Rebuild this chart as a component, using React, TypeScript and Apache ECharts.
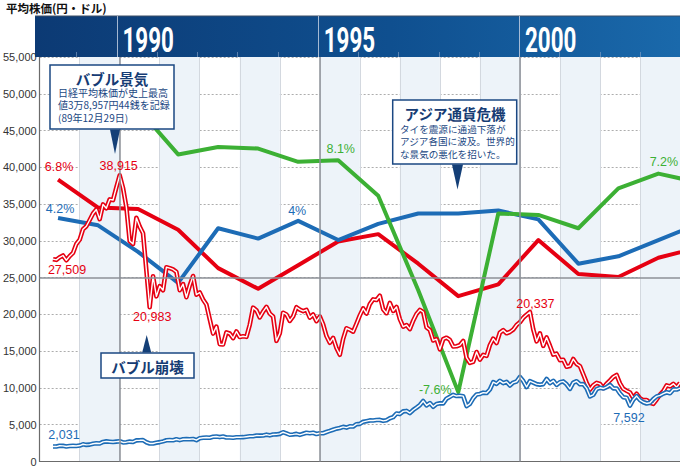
import React, { useEffect, useRef } from "react";
import * as echarts from "echarts";

// ---- data ----
const GROWTH_YEARS = [1988, 1989, 1990, 1991, 1992, 1993, 1994, 1995, 1996, 1997, 1998, 1999, 2000, 2001, 2002, 2003, 2004];
const japanGrowth = [6.8, 4.9, 4.8, 3.4, 0.8, -0.6, 1.0, 2.6, 3.1, 1.1, -1.1, -0.3, 2.7, 0.4, 0.2, 1.5, 2.2];
const usGrowth = [4.2, 3.7, 1.9, -0.2, 3.5, 2.8, 4.0, 2.7, 3.8, 4.5, 4.5, 4.7, 4.1, 1.1, 1.6, 2.7, 3.8];
const ASIA_YEARS = [1990, 1991, 1992, 1993, 1994, 1995, 1996, 1997, 1998, 1999, 2000, 2001, 2002, 2003, 2004];
const asiaGrowth = [11.6, 8.5, 9.0, 8.9, 8.0, 8.1, 5.7, -0.7, -7.6, 4.5, 4.4, 3.5, 6.2, 7.2, 6.6];

// month-end values from April 1988 to December 2003
const MONTHLY_START_YEAR = 1988;
const MONTHLY_START_MONTH = 4;
const nikkeiMonthEnd = [
  27509, 27417, 27769, 28010, 27366, 27924, 28358, 29579, 30159,
  31581, 31986, 32839, 33713, 34267, 32949, 34954, 34431, 35637, 35549, 37269, 38915,
  37189, 34591, 29980, 29584, 33131, 31940, 31036, 25978, 20983, 25194, 22455, 23849,
  23293, 26409, 26292, 26111, 25790, 23291, 24121, 22336, 23916, 25222, 22687, 22984,
  22023, 21339, 19346, 17391, 18348, 15952, 15910, 17555, 17399, 16767, 17684, 16925,
  17024, 16953, 18591, 20919, 20552, 19591, 20380, 21027, 20106, 19704, 16408, 17417,
  20229, 19997, 19112, 19725, 20974, 20644, 20449, 20629, 19564, 19990, 19076, 19723,
  18650, 17053, 16140, 16807, 15437, 14517, 16678, 18117, 17913, 17655, 18744, 19868,
  20813, 20125, 21407, 22041, 21956, 22531, 20693, 20167, 21556, 20467, 21020, 19361,
  18330, 18557, 18003, 19151, 20069, 20605, 20331, 18229, 17888, 16459, 16636, 15259,
  16628, 16832, 16527, 15641, 15671, 15830, 16379, 14108, 13406, 13565, 14884, 13842,
  14499, 14368, 15837, 16702, 16112, 17530, 17862, 17437, 17605, 17942, 18558, 18934,
  19540, 19960, 20337, 17974, 16332, 17411, 15727, 16861, 15747, 14539, 14649, 13785,
  13843, 12883, 12999, 13934, 13262, 12969, 11860, 10713, 9775, 10366, 10697, 10543,
  9997, 10588, 11025, 11493, 11764, 10621, 9877, 9619, 9383, 8640, 9216, 8579,
  8340, 8363, 7973, 7831, 8425, 9083, 9563, 10344, 10219, 10560, 10101, 10677,
];
const dowMonthEnd = [
  2031, 2031, 2142, 2129, 2032, 2113, 2149, 2115, 2169,
  2342, 2258, 2293, 2419, 2480, 2440, 2661, 2737, 2693, 2645, 2706, 2753,
  2591, 2627, 2707, 2657, 2877, 2881, 2905, 2614, 2453, 2442, 2560, 2634,
  2737, 2882, 2914, 2888, 3028, 2907, 3025, 3044, 3017, 3069, 2895, 3169,
  3224, 3268, 3236, 3359, 3397, 3319, 3394, 3257, 3272, 3226, 3305, 3301,
  3310, 3371, 3435, 3428, 3527, 3516, 3540, 3651, 3555, 3681, 3684, 3754,
  3978, 3832, 3636, 3682, 3758, 3625, 3765, 3913, 3843, 3908, 3739, 3834,
  3844, 4011, 4158, 4321, 4465, 4556, 4709, 4611, 4789, 4756, 5075, 5117,
  5395, 5486, 5587, 5569, 5643, 5655, 5529, 5616, 5882, 6029, 6522, 6448,
  6813, 6878, 6584, 7009, 7331, 7673, 8223, 7622, 7945, 7442, 7823, 7908,
  7907, 8546, 8800, 9063, 8900, 8952, 8883, 7539, 7843, 8592, 9117, 9181,
  9359, 9307, 9786, 10789, 10560, 10971, 10655, 10829, 10337, 10730, 10878, 11497,
  10940, 10128, 10922, 10734, 10522, 10448, 10522, 11215, 10651, 10971, 10415, 10788,
  10887, 10495, 9879, 10735, 10912, 10502, 10523, 9950, 8848, 9075, 9852, 10022,
  9920, 10106, 10404, 9946, 9925, 9243, 8737, 8664, 7592, 8397, 8896, 8342,
  8054, 7891, 7992, 8480, 8850, 8985, 9234, 9416, 9275, 9801, 9782, 9950,
];
const HEADER_YEARS = [1990, 1995, 2000];
const X_MIN = 1988;
const X_MAX = 2004;

// ---- layout / style ----
const W = 680;
const H = 467;
const GL = 36;
const GT = 57;
const GB = 4;
const GR = 0;
const YEAR_W = (W - GL - GR) / (X_MAX - X_MIN);
const xOf = (yr: number) => GL + (yr - X_MIN) * YEAR_W;

const RED = "#e60012";
const BLUE = "#1d6cb6";
const GREEN = "#3cb034";
const NAVY = "#1b4883";
const JP = "'Noto Sans CJK JP', sans-serif";
const NUM = "'Liberation Sans', Arial, sans-serif";

const GROWTH_OFFSET = 0.46;
const monthT = (i: number) => MONTHLY_START_YEAR + (MONTHLY_START_MONTH + i) / 12;

const nikkeiData = nikkeiMonthEnd.map((v, i) => [monthT(i), v]);
const dowData = dowMonthEnd.map((v, i) => [monthT(i), v]);
const jpData = japanGrowth.map((v, i) => [GROWTH_YEARS[i] + GROWTH_OFFSET, v]);
const usData = usGrowth.map((v, i) => [GROWTH_YEARS[i] + GROWTH_OFFSET, v]);
const asiaData = asiaGrowth.map((v, i) => [ASIA_YEARS[i] + GROWTH_OFFSET, v]);

const fmt = (v: number) => v.toLocaleString("en-US");

function mp(coord: number[], text: string, color: string, offset: number[]) {
  return {
    coord,
    value: text,
    symbol: "circle",
    symbolSize: 0,
    label: {
      show: true,
      position: "inside",
      offset,
      formatter: text,
      color,
      fontSize: 12.5,
      lineHeight: 13,
      fontFamily: NUM,
    },
  };
}

function markPoints(items: any[]) {
  return { silent: true, symbol: "circle", symbolSize: 0, animation: false, data: items };
}

const nikkeiIdx = (year: number, month: number) =>
  (year - MONTHLY_START_YEAR) * 12 + month - MONTHLY_START_MONTH;

function buildOption() {
  const graphic: any[] = [];
  // title
  graphic.push({
    type: "text", x: 6, y: 8, z: 100,
    style: { text: "平均株価(円・ドル)", fill: "#111", fontSize: 11.5, lineHeight: 12, fontWeight: "bold", fontFamily: JP, verticalAlign: "middle", align: "left" },
  });
  // header band
  graphic.push({
    type: "rect", z: 100,
    shape: { x: GL - 1, y: 16, width: W - GL + 1, height: GT - 16 },
    style: {
      fill: new echarts.graphic.LinearGradient(0, 0, 1, 0, [
        { offset: 0, color: "#0c3a74" },
        { offset: 0.55, color: "#0f4f8f" },
        { offset: 1, color: "#1a69ab" },
      ]),
    },
  });
  graphic.push({ type: "line", z: 101, shape: { x1: GL - 1, y1: 16, x2: W, y2: 16 }, style: { stroke: "#3d4e66", lineWidth: 1 } });
  for (let yr = X_MIN + 1; yr < X_MAX; yr++) {
    const x = Math.round(xOf(yr)) + 0.5;
    if (HEADER_YEARS.includes(yr)) {
      graphic.push({ type: "line", z: 101, shape: { x1: x, y1: 16, x2: x, y2: GT }, style: { stroke: "rgba(190,205,225,0.85)", lineWidth: 1 } });
      graphic.push({
        type: "text", z: 102, x: xOf(yr) + 6, y: 40, scaleX: 0.64,
        style: { text: String(yr), fill: "#ffffff", fontSize: 35, lineHeight: 36, fontWeight: "bold", fontFamily: "Roboto, 'DejaVu Sans Condensed', sans-serif", verticalAlign: "middle", align: "left" },
      });
    } else {
      graphic.push({ type: "line", z: 101, shape: { x1: x, y1: GT - 5, x2: x, y2: GT }, style: { stroke: "rgba(140,165,200,0.6)", lineWidth: 1 } });
    }
  }

  // annotation box helpers
  const box = (x: number, y: number, w: number, h: number) => ({
    type: "rect", z: 110, shape: { x, y, width: w, height: h },
    style: { fill: "#ffffff", stroke: NAVY, lineWidth: 1.5 },
  });
  const tri = (pts: number[][]) => ({ type: "polygon", z: 111, shape: { points: pts }, style: { fill: "#143f77" } });
  const title = (x: number, y: number, text: string) => ({
    type: "text", z: 112, x, y,
    style: { text, fill: "#163c74", fontSize: 14.5, lineHeight: 15, fontWeight: "bold", fontFamily: JP, align: "center", verticalAlign: "middle" },
  });
  const body = (x: number, yTop: number, lines: string[], size: number, lh: number) => ({
    type: "text", z: 112, x, y: yTop,
    style: { text: lines.join("\n"), fill: NAVY, fontSize: size, lineHeight: lh, fontFamily: JP, align: "left", verticalAlign: "top" },
  });

  // バブル景気
  graphic.push(box(50, 65, 124, 64));
  graphic.push(tri([[110, 129.5], [120, 129.5], [115, 154]]));
  graphic.push(title(112, 78.5, "バブル景気"));
  graphic.push(body(58, 86.6, ["日経平均株価が史上最高", "値3万8,957円44銭を記録", "(89年12月29日)"], 10, 12.2));

  // アジア通貨危機
  graphic.push(box(392.7, 100, 124, 64));
  graphic.push(tri([[452, 164.5], [463, 164.5], [457.5, 189.5]]));
  graphic.push(title(455, 113.5, "アジア通貨危機"));
  graphic.push(body(400, 123.3, ["タイを震源に通過下落が", "アジア各国に波及。世界的", "な景気の悪化を招いた。"], 9.6, 12.1));

  // バブル崩壊
  graphic.push(box(101, 353, 93, 25));
  graphic.push(tri([[142.2, 352.5], [151.2, 352.5], [146.7, 335]]));
  graphic.push(title(147.5, 366, "バブル崩壊"));

  const thin = (data: any[], color: string, z: number) => ({
    type: "line", data, yAxisIndex: 0, showSymbol: false, symbol: "none", z,
    lineStyle: { color, width: 1.4, join: "round" }, silent: true, animation: false,
  });

  const ni = (y: number, m: number) => nikkeiData[nikkeiIdx(y, m)];

  return {
    animation: false,
    grid: { left: GL, right: GR, top: GT, bottom: GB, containLabel: false },
    xAxis: {
      type: "value", min: X_MIN, max: X_MAX, interval: 1,
      axisLabel: { show: false }, axisTick: { show: false },
      axisLine: { show: true, lineStyle: { color: "#6b6b6b", width: 1.2 } },
      splitLine: { show: true, lineStyle: { color: "#d3d8df", width: 1 } },
      splitArea: { show: true, areaStyle: { color: ["rgba(255,255,255,0)", "#edf3f9"] } },
    },
    yAxis: [
      {
        type: "value", min: 0, max: 55000, interval: 5000,
        axisLine: { show: true, lineStyle: { color: "#6b6b6b", width: 1.2 } },
        axisTick: { show: false },
        axisLabel: { formatter: (v: number) => fmt(v), color: "#333", fontSize: 11, margin: 3, fontFamily: NUM },
        splitLine: { show: true, lineStyle: { color: "#adadad", width: 1, type: [2, 2] } },
      },
      { type: "value", min: -12.3, max: 15.1, show: false, splitLine: { show: false } },
    ],
    graphic,
    series: [
      {
        type: "line", data: [], z: 1, silent: true,
        markLine: {
          silent: true, symbol: "none", animation: false, label: { show: false },
          lineStyle: { color: "#8c9197", width: 1.5, type: "solid" },
          data: [{ xAxis: HEADER_YEARS[0] }, { xAxis: HEADER_YEARS[1] }, { xAxis: HEADER_YEARS[2] }, { yAxis: 25000 }],
        },
      },
      {
        name: "日本", type: "line", yAxisIndex: 1, data: jpData, symbol: "none", showSymbol: false, z: 2,
        lineStyle: { color: RED, width: 4, join: "round" }, clip: true,
        markPoint: markPoints([mp(jpData[0], "6.8%", RED, [1, -13])]),
      },
      {
        name: "米国", type: "line", yAxisIndex: 1, data: usData, symbol: "none", showSymbol: false, z: 2,
        lineStyle: { color: BLUE, width: 4, join: "round" }, clip: true,
        markPoint: markPoints([mp(usData[0], "4.2%", BLUE, [2, -8.5]), mp(usData[6], "4%", BLUE, [-1, -9.5])]),
      },
      {
        name: "アジア", type: "line", yAxisIndex: 1, data: asiaData, symbol: "none", showSymbol: false, z: 2,
        lineStyle: { color: GREEN, width: 4, join: "round" }, clip: true,
        markPoint: markPoints([
          mp(asiaData[5], "8.1%", GREEN, [2.5, -11.5]),
          mp(asiaData[8], "-7.6%", GREEN, [-23, -2]),
          mp(asiaData[13], "7.2%", GREEN, [5.5, -11.5]),
        ]),
      },
      {
        name: "日経平均", type: "line", yAxisIndex: 0, data: nikkeiData, symbol: "none", showSymbol: false, z: 3,
        lineStyle: { color: RED, width: 4.6, join: "round" },
        markPoint: markPoints([
          mp(nikkeiData[0], fmt(nikkeiMonthEnd[0]), RED, [14, 11]),
          mp(ni(1989, 12), "38,915", RED, [-1, -9.5]),
          mp(ni(1990, 9), "20,983", RED, [2.5, 9.5]),
          mp(ni(2000, 3), "20,337", RED, [5.5, -7.5]),
        ]),
      },
      thin(nikkeiData, "#ffffff", 3),
      {
        name: "NYダウ", type: "line", yAxisIndex: 0, data: dowData, symbol: "none", showSymbol: false, z: 3,
        lineStyle: { color: BLUE, width: 4.6, join: "round" },
        markPoint: markPoints([
          mp(dowData[0], fmt(dowMonthEnd[0]), BLUE, [11, -11.5]),
          mp(dowData[nikkeiIdx(2002, 9)], "7,592", BLUE, [-1, 12]),
        ]),
      },
      thin(dowData, "#ffffff", 3),
    ],
  };
}

export default function App() {
  const ref = useRef<HTMLDivElement>(null);
  useEffect(() => {
    if (!ref.current) return;
    const chart = echarts.init(ref.current, null, { renderer: "svg" });
    chart.setOption(buildOption() as any);
    return () => chart.dispose();
  }, []);
  return <div ref={ref} style={{ position: "absolute", left: 0, top: 0, width: W, height: H }} />;
}
